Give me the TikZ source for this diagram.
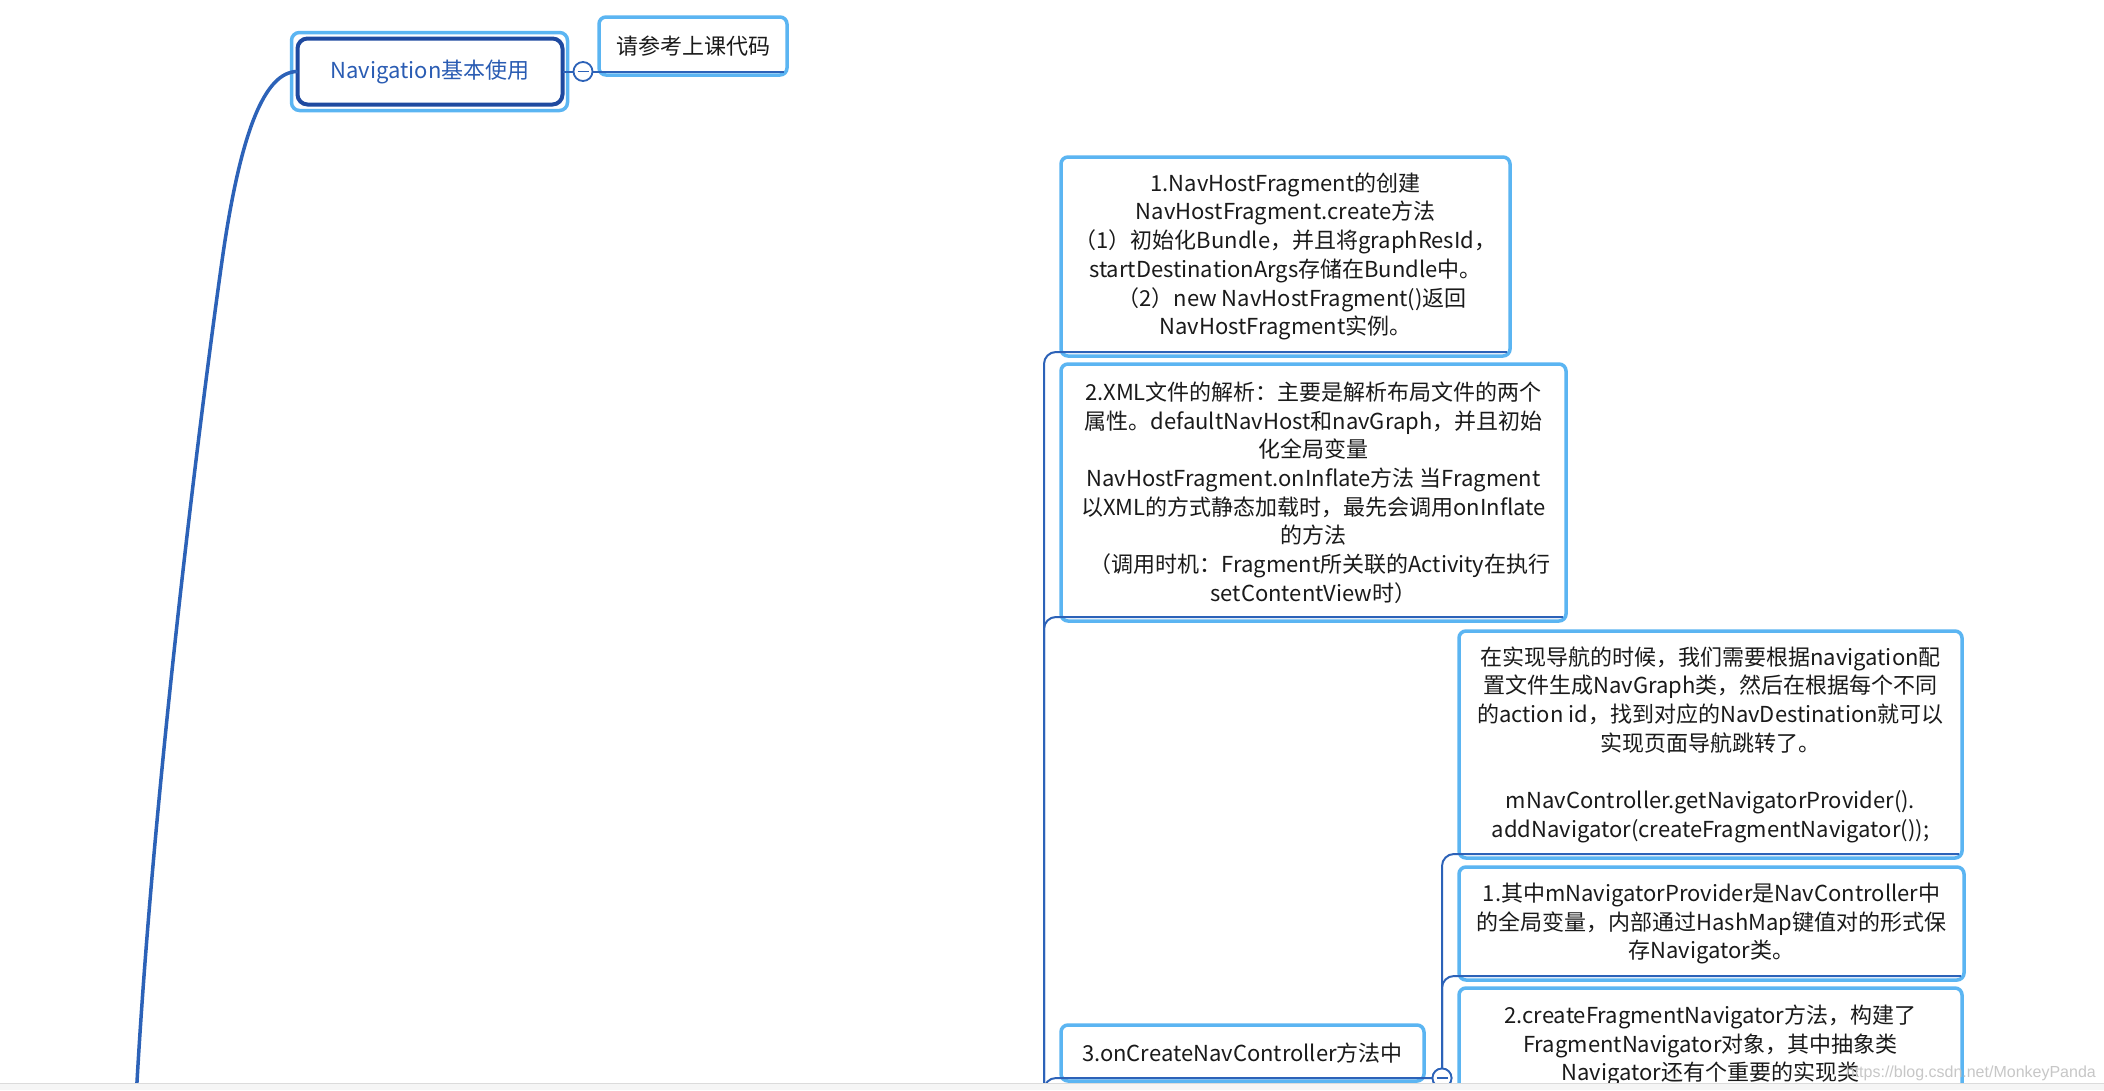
\documentclass[tikz,border=0pt]{standalone}
\usepackage{fontspec}
\setmainfont{Noto Sans CJK SC}
\newfontfamily\wmfont{Liberation Sans}
\newcommand\bodyfont{\fontsize{22}{28.7}\selectfont}
\definecolor{hlblue}{HTML}{5BB5F2}
\definecolor{lnblue}{HTML}{2C62B8}
\definecolor{navblue}{HTML}{1F4AA0}
\definecolor{navtext}{HTML}{2A5CB3}
\definecolor{txt}{HTML}{1A1A1A}
\begin{document}
\begin{tikzpicture}[x=1pt,y=-1pt,
  hl/.style={draw=hlblue, line width=3.5pt, rounded corners=7pt, fill=white,
    outer sep=0pt, inner sep=0pt, align=center, text=txt, font=\bodyfont},
  navhl/.style={draw=hlblue, line width=3.5pt, rounded corners=8pt, outer sep=0pt, inner sep=0pt},
  navbox/.style={draw=navblue, line width=4pt, rounded corners=10pt, fill=white,
    outer sep=0pt, inner sep=0pt, text=navtext, font=\bodyfont},
  conn/.style={draw=lnblue, line width=2pt},
  circ/.style={circle, draw=lnblue, line width=1.8pt, fill=white, minimum size=19pt,
    inner sep=0pt, outer sep=0pt,
    path picture={\draw[lnblue, line width=1.5pt]
      ([xshift=-5.5pt]path picture bounding box.center) -- ([xshift=5.5pt]path picture bounding box.center);}}
]
\useasboundingbox (0,0) rectangle (2104,1090);
\fill[white] (0,0) rectangle (2104,1090);
\begin{scope}
\clip (0,0) rectangle (2104,1083);

% top-left topic
\node[navhl, minimum width=276pt, minimum height=78pt] (navh) at (429.5,71.5) {};
\node[navbox, minimum width=265pt, minimum height=66pt] (nav) at (430,71.5) {Navigation基本使用};
\node[hl, minimum width=188pt, minimum height=58pt] (ref) at (693,46) {请参考上课代码};
\node[circ] (c1) at (583,71.5) {};
\coordinate (root) at (136,1100);
\draw[lnblue, line width=3.5pt] (nav.west) .. controls (265,71.5) and (240,130) .. (221,268)
  .. controls (200,418) and (152,800) .. (root);
\draw[conn] (nav.east) -- (c1.west);
\draw[conn] (c1.east) -- ([xshift=-3pt]c1.east -| ref.east);

% left column
\node[hl, minimum width=449pt, minimum height=199pt] (b1) at (1285.5,256.5)
  {1.NavHostFragment的创建\\
   NavHostFragment.create方法\\
   （1）初始化Bundle，并且将graphResId，\\
   startDestinationArgs存储在Bundle中。\\
   \hspace*{0.6em}（2）new NavHostFragment()返回\\
   NavHostFragment实例。};
\node[hl, minimum width=505pt, minimum height=257pt] (b2) at (1313.5,492.5)
  {2.XML文件的解析：主要是解析布局文件的两个\\
   属性。defaultNavHost和navGraph，并且初始\\
   化全局变量\\
   NavHostFragment.onInflate方法 当Fragment\\
   以XML的方式静态加载时，最先会调用onInflate\\
   的方法\\
   \hspace*{0.6em}（调用时机：Fragment所关联的Activity在执行\\
   setContentView时）};
\node[hl, minimum width=363pt, minimum height=56pt] (b3) at (1242.5,1053)
  {3.onCreateNavController方法中};
\node[circ] (c2) at (1442,1078) {};

% right column
\node[hl, minimum width=503pt, minimum height=227pt] (bb) at (1710.5,744.5)
  {在实现导航的时候，我们需要根据navigation配\\
   置文件生成NavGraph类，然后在根据每个不同\\
   的action id，找到对应的NavDestination就可以\\
   实现页面导航跳转了。\\
   \mbox{}\\
   mNavController.getNavigatorProvider().\\
   addNavigator(createFragmentNavigator());};
\node[hl, minimum width=505pt, minimum height=113pt] (bq) at (1711.5,923.5)
  {1.其中mNavigatorProvider是NavController中\\
   的全局变量，内部通过HashMap键值对的形式保\\
   存Navigator类。};
\node[hl, minimum width=503pt, minimum height=115pt] (bc) at (1710.5,1045.5)
  {2.createFragmentNavigator方法，构建了\\
   FragmentNavigator对象，其中抽象类\\
   Navigator还有个重要的实现类};

% connectors / underlines
\coordinate (spL) at (1044,1110);
\draw[conn, rounded corners=12pt] (spL) |- ([shift={(-3pt,4pt)}]b1.south east);
\draw[conn, rounded corners=12pt] (spL) |- ([shift={(-3pt,4pt)}]b2.south east);
\draw[conn, rounded corners=12pt] (spL) |- (c2.west);
\draw[conn, rounded corners=12pt] (c2.north) |- ([shift={(-3pt,4pt)}]bb.south east);
\draw[conn, rounded corners=12pt] (c2.north) |- ([shift={(-3pt,4pt)}]bq.south east);
\draw[conn, rounded corners=12pt] (c2.south) |- ([shift={(-3pt,4pt)}]bc.south east);
\node[circ] at (c2) {};

% watermark
\node[anchor=base east, inner sep=0pt, font=\wmfont\fontsize{16}{16}\selectfont, text=black!22]
  (wm) at (2096,1077) {https://blog.csdn.net/MonkeyPanda};
\end{scope}

% bottom band
\fill[black!4] (0,1083) rectangle (2104,1090);
\draw[black!14, line width=1pt] (0,1083) -- (2104,1083);
\end{tikzpicture}
\end{document}
